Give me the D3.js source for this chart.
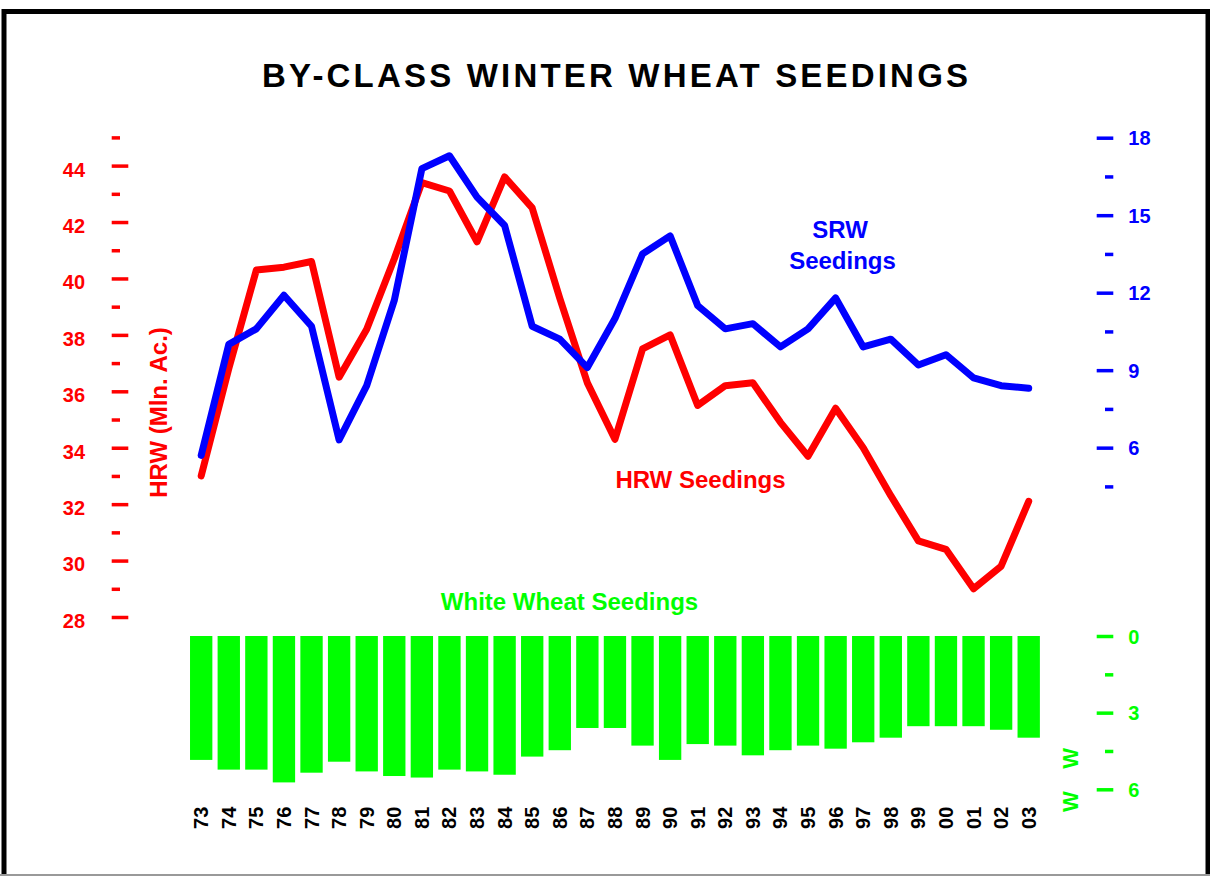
<!DOCTYPE html>
<html>
<head>
<meta charset="utf-8">
<script src="https://cdn.jsdelivr.net/npm/d3@7"></script>
<style>
  html, body { margin: 0; padding: 0; background: #fff; }
  svg { display: block; font-family: "Liberation Sans", Arial, sans-serif; font-weight: bold; }
</style>
</head>
<body>
<svg id="chart" width="1210" height="876"></svg>
<script>
// ---- data ----
const years = ["73","74","75","76","77","78","79","80","81","82","83","84","85","86","87","88","89","90","91","92","93","94","95","96","97","98","99","00","01","02","03"];
const hrwSeedings = [33.0, 36.8, 40.3, 40.4, 40.6, 36.5, 38.2, 40.7, 43.4, 43.1, 41.3, 43.6, 42.5, 39.3, 36.3, 34.3, 37.5, 38.0, 35.5, 36.2, 36.3, 34.9, 33.7, 35.4, 34.0, 32.3, 30.7, 30.4, 29.0, 29.8, 32.1];
const srwSeedings = [5.7, 10.0, 10.6, 11.9, 10.7, 6.3, 8.4, 11.7, 16.8, 17.3, 15.7, 14.6, 10.7, 10.2, 9.1, 11.0, 13.5, 14.2, 11.5, 10.6, 10.8, 9.9, 10.6, 11.8, 9.9, 10.2, 9.2, 9.6, 8.7, 8.4, 8.3];
const whiteSeedings = [4.85, 5.23, 5.23, 5.73, 5.35, 4.92, 5.30, 5.48, 5.54, 5.23, 5.30, 5.43, 4.72, 4.47, 3.60, 3.60, 4.29, 4.85, 4.23, 4.29, 4.67, 4.47, 4.29, 4.41, 4.16, 3.98, 3.53, 3.53, 3.53, 3.67, 3.98];
const hrwMajorTicks = [28, 30, 32, 34, 36, 38, 40, 42, 44];
const hrwMinorTicks = [29, 31, 33, 35, 37, 39, 41, 43, 45];
const srwMajorTicks = [6, 9, 12, 15, 18];
const srwMinorTicks = [4.5, 7.5, 10.5, 13.5, 16.5];
const whiteMajorTicks = [0, 3, 6];
const whiteMinorTicks = [1.5, 4.5];

const RED = "#ff0000", BLUE = "#0000ff", GREEN = "#00ff00";

const svg = d3.select("#chart");

// frame
svg.append("rect").attr("x", 4).attr("y", 11.5).attr("width", 1204).attr("height", 900)
  .attr("fill", "none").attr("stroke", "#000").attr("stroke-width", 5);
svg.append("line").attr("x1", 0).attr("x2", 1210).attr("y1", 875).attr("y2", 875)
  .attr("stroke", "#999").attr("stroke-width", 2);

// scales
const x = d3.scaleBand().domain(years).range([187.4, 1042.5]).paddingInner(0.19).paddingOuter(0.095);
const yL = d3.scaleLinear().domain([28, 45]).range([617, 137.4]);
const yR = d3.scaleLinear().domain([4.5, 18]).range([486.4, 137.7]);
const yG = d3.scaleLinear().domain([0, 6]).range([636, 789.3]);

// title
svg.append("text").attr("x", 615).attr("y", 87).attr("text-anchor", "middle")
  .attr("font-size", 33).attr("fill", "#000")
  .attr("textLength", 706).attr("lengthAdjust", "spacing")
  .text("BY-CLASS WINTER WHEAT SEEDINGS");

// bars
svg.append("g").selectAll("rect").data(whiteSeedings).join("rect")
  .attr("x", (d, i) => x(years[i]))
  .attr("width", x.bandwidth())
  .attr("y", yG(0))
  .attr("height", d => yG(d) - yG(0))
  .attr("fill", GREEN);

// lines
const xc = i => x(years[i]) + x.bandwidth() / 2;
svg.append("path").datum(hrwSeedings)
  .attr("d", d3.line().x((d, i) => xc(i)).y(d => yL(d)))
  .attr("fill", "none").attr("stroke", RED).attr("stroke-width", 7)
  .attr("stroke-linejoin", "round").attr("stroke-linecap", "round");
svg.append("path").datum(srwSeedings)
  .attr("d", d3.line().x((d, i) => xc(i)).y(d => yR(d)))
  .attr("fill", "none").attr("stroke", BLUE).attr("stroke-width", 7)
  .attr("stroke-linejoin", "round").attr("stroke-linecap", "round");

// axes helper
function styleAxis(g, color, fontSize, dy) {
  g.select(".domain").remove();
  g.selectAll("line").attr("stroke", color).attr("stroke-width", 3.5);
  g.selectAll("text").attr("fill", color).attr("font-size", fontSize)
    .attr("font-family", "'Liberation Sans', Arial, sans-serif").attr("font-weight", "bold");
  if (dy) g.selectAll("text").attr("dy", dy);
}

// left HRW axis
svg.append("g").attr("transform", "translate(128.3,0)")
  .call(d3.axisLeft(yL).tickValues(hrwMajorTicks).tickSize(16.6).tickPadding(26.6).tickFormat(d3.format("d")))
  .call(g => styleAxis(g, RED, 20, "0.52em"));
svg.append("g").attr("transform", "translate(120,0)")
  .call(d3.axisLeft(yL).tickValues(hrwMinorTicks).tickSize(8.3).tickFormat(""))
  .call(g => styleAxis(g, RED, 20));

// right SRW axis
svg.append("g").attr("transform", "translate(1096.7,0)")
  .call(d3.axisRight(yR).tickValues(srwMajorTicks).tickSize(16.6).tickPadding(15).tickFormat(d3.format("d")))
  .call(g => styleAxis(g, BLUE, 20, "0.36em"));
svg.append("g").attr("transform", "translate(1105,0)")
  .call(d3.axisRight(yR).tickValues(srwMinorTicks).tickSize(8.3).tickFormat(""))
  .call(g => styleAxis(g, BLUE, 20));

// right white axis
svg.append("g").attr("transform", "translate(1096.7,0)")
  .call(d3.axisRight(yG).tickValues(whiteMajorTicks).tickSize(16.6).tickPadding(15).tickFormat(d3.format("d")))
  .call(g => styleAxis(g, GREEN, 20, "0.36em"));
svg.append("g").attr("transform", "translate(1105,0)")
  .call(d3.axisRight(yG).tickValues(whiteMinorTicks).tickSize(8.3).tickFormat(""))
  .call(g => styleAxis(g, GREEN, 20));

// x labels (rotated)
svg.append("g").selectAll("text").data(years).join("text")
  .attr("transform", (d, i) => `translate(${xc(i)},806.7) rotate(-90)`)
  .attr("text-anchor", "end").attr("dy", "0.35em")
  .attr("font-size", 20).attr("fill", "#000")
  .text(d => d);

// axis title left
svg.append("text").attr("transform", "translate(167.3,412.5) rotate(-90)")
  .attr("text-anchor", "middle").attr("font-size", 24).attr("fill", RED)
  .text("HRW (Mln. Ac.)");

// green clipped axis title
svg.append("text").attr("transform", "translate(1078,758.3) rotate(-90)")
  .attr("text-anchor", "middle").attr("font-size", 22).attr("fill", GREEN).text("W");
svg.append("text").attr("transform", "translate(1078,801.7) rotate(-90)")
  .attr("text-anchor", "middle").attr("font-size", 22).attr("fill", GREEN).text("W");

// series annotations
svg.append("text").attr("x", 840).attr("y", 238).attr("text-anchor", "middle")
  .attr("font-size", 24).attr("fill", BLUE).text("SRW");
svg.append("text").attr("x", 842.5).attr("y", 268.5).attr("text-anchor", "middle")
  .attr("font-size", 24).attr("fill", BLUE).text("Seedings");
svg.append("text").attr("x", 700.5).attr("y", 488).attr("text-anchor", "middle")
  .attr("font-size", 24).attr("fill", RED).text("HRW Seedings");
svg.append("text").attr("x", 569.5).attr("y", 610).attr("text-anchor", "middle")
  .attr("font-size", 24).attr("fill", GREEN).text("White Wheat Seedings");
</script>
</body>
</html>
